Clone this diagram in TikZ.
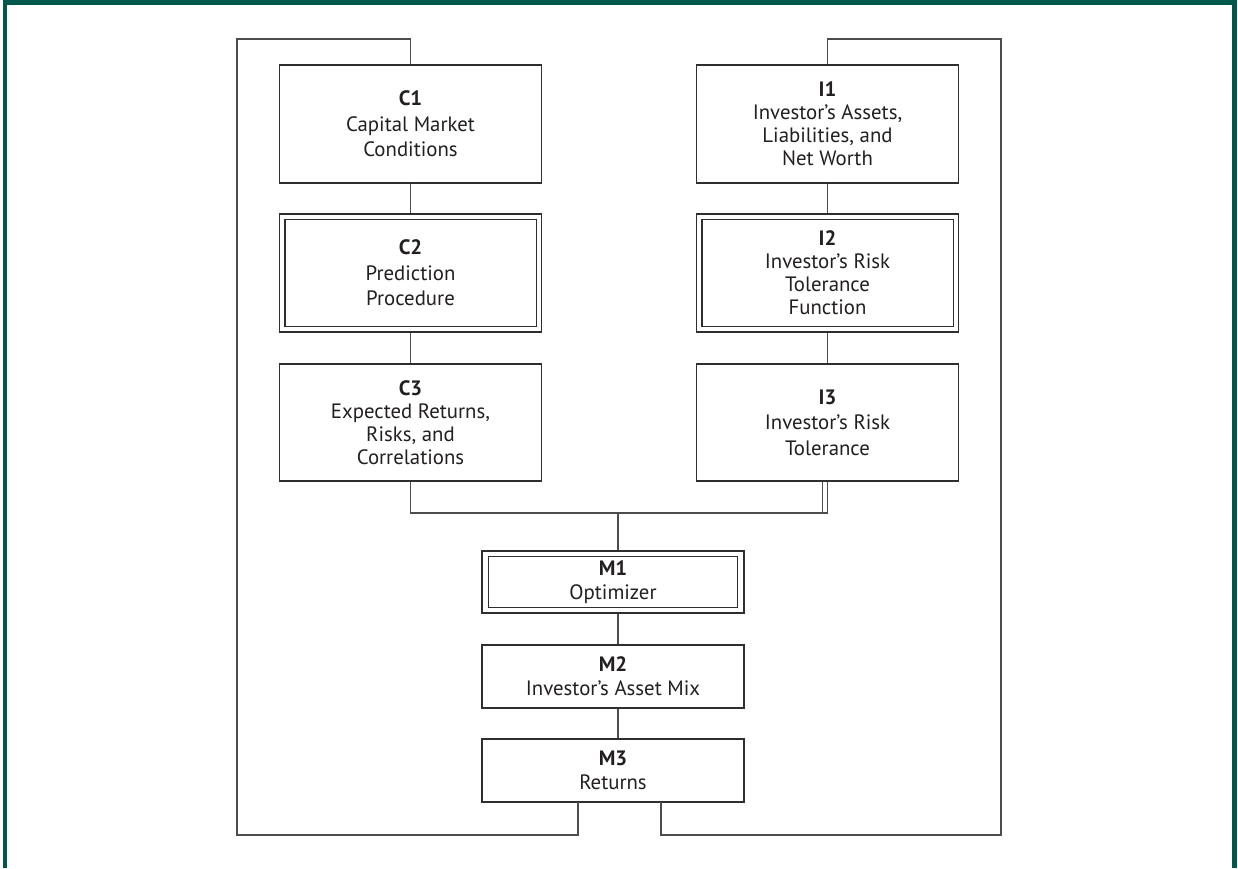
\documentclass[tikz,border=0pt]{standalone}
\usepackage{fontspec}
\setmainfont{PT Sans}[Ligatures=ResetAll]
\definecolor{framegreen}{HTML}{00574A}
\definecolor{linec}{HTML}{2E2E2E}
\definecolor{textc}{HTML}{231F20}
\begin{document}
\begin{tikzpicture}[x=1pt,y=-1pt,
  box/.style={draw=linec, line width=1.3pt, fill=white, inner sep=0pt, align=center,
    font=\fontsize{20.8}{25.5}\selectfont, text=textc},
  tight/.style={font=\fontsize{20.8}{23}\selectfont},
  mid/.style={font=\fontsize{20.8}{24}\selectfont},
  wide/.style={minimum width=262pt, minimum height=118pt},
  mbox/.style={minimum width=262pt, minimum height=63pt},
  inner/.style={draw=linec, line width=1.3pt},
  conn/.style={draw=linec!85, line width=1.3pt}]
\useasboundingbox (0,0) rectangle (1238,868);
% frame
\draw[framegreen, line width=4.5pt] (5,868) -- (5,2.5) -- (1234.5,2.5) -- (1234.5,868);
% nodes
\node[box, wide] (c1) at (410.5,124) {\textbf{C1}\\Capital Market\\Conditions};
\node[box, wide] (c2) at (410.5,273) {\textbf{C2}\\Prediction\\Procedure};
\node[box, wide, tight, minimum height=117pt] (c3) at (410.5,422.5) {\textbf{C3}\\Expected Returns,\\Risks, and\\Correlations};
\node[box, wide, tight] (i1) at (827.5,124) {\textbf{I1}\\Investor's Assets,\\Liabilities, and\\Net Worth};
\node[box, wide, tight] (i2) at (827.5,273) {\textbf{I2}\\Investor's Risk\\Tolerance\\Function};
\node[box, wide, minimum height=117pt] (i3) at (827.5,422.5) {\textbf{I3}\\Investor's Risk\\Tolerance};
\node[box, mbox, mid, minimum height=62pt] (m1) at (613,582) {\textbf{M1}\\Optimizer};
\node[box, mbox, mid] (m2) at (613,676.5) {\textbf{M2}\\Investor's Asset Mix};
\node[box, mbox, mid] (m3) at (613,770.5) {\textbf{M3}\\Returns};
% inner borders of double boxes
\draw[inner] ([shift={(6,6)}]c2.north west) rectangle ([shift={(-6,-6)}]c2.south east);
\draw[inner] ([shift={(6,6)}]i2.north west) rectangle ([shift={(-6,-6)}]i2.south east);
\draw[inner] ([shift={(7,6)}]m1.north west) rectangle ([shift={(-7,-6)}]m1.south east);
% coordinates
\coordinate (join) at (618,513);
\coordinate (bl) at (237,835);
\coordinate (tl) at (237,39);
\coordinate (br) at (1001,835);
\coordinate (tr) at (1001,39);
\coordinate (m3l) at (578,802);
\coordinate (m3r) at (661,802);
% connectors
\draw[conn] (c1.south) -- (c2.north);
\draw[conn] (c2.south) -- (c3.north);
\draw[conn] (i1.south) -- (i2.north);
\draw[conn] (i2.south) -- (i3.north);
\draw[conn] (c3.south) |- (join) -| (i3.south);
\draw[conn] ([xshift=-5]i3.south) -- ++(0,32);
\draw[conn] (join) -- (join |- m1.north);
\draw[conn] (join |- m1.south) -- (join |- m2.north);
\draw[conn] (join |- m2.south) -- (join |- m3.north);
\draw[conn] (m3l) |- (bl) -- (tl) -| (c1.north);
\draw[conn] (m3r) |- (br) -- (tr) -| (i1.north);
\end{tikzpicture}
\end{document}
